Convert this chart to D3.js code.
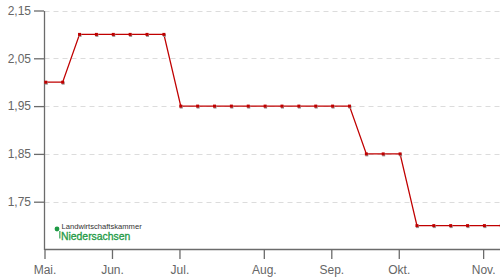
<!DOCTYPE html>
<html>
<head>
<meta charset="utf-8">
<script src="https://cdn.jsdelivr.net/npm/d3@7"></script>
<style>
  body { margin: 0; background: #fff; }
  svg { display: block; font-family: "Liberation Sans", Arial, sans-serif; }
</style>
</head>
<body>
<div id="chart"></div>
<script>
// weekly quotes (Thursdays)
const weeks = ["2015-05-07","2015-05-14","2015-05-21","2015-05-28",
  "2015-06-04","2015-06-11","2015-06-18","2015-06-25",
  "2015-07-02","2015-07-09","2015-07-16","2015-07-23","2015-07-30",
  "2015-08-06","2015-08-13","2015-08-20","2015-08-27",
  "2015-09-03","2015-09-10","2015-09-17","2015-09-24",
  "2015-10-01","2015-10-08","2015-10-15","2015-10-22","2015-10-29",
  "2015-11-05","2015-11-12"]
const prices = [2.00,2.00,
  2.10,2.10,2.10,2.10,2.10,2.10,
  1.95,1.95,1.95,1.95,1.95,1.95,1.95,1.95,1.95,1.95,1.95,
  1.85,1.85,1.85,
  1.70,1.70,1.70,1.70,1.70,1.70]
const monthLabels = ["Mai.","Jun.","Jul.","Aug.","Sep.","Okt.","Nov."]
const yTicks = [1.75,1.85,1.95,2.05,2.15]

const width = 500, height = 280
const svg = d3.select("#chart").append("svg")
  .attr("width", width).attr("height", height)

const x = d3.scalePoint().domain(weeks).range([44.5, 500])
const y = d3.scaleLinear().domain([1.65, 2.15]).range([249.5, 10.5])

// first week of each month gets a tick
const monthStarts = weeks.filter((w, i) => i == 0 || w.slice(5,7) != weeks[i-1].slice(5,7))
const fmtY = d => d3.format(".2f")(d).replace(".", ",")

// grid
svg.append("g").selectAll("line").data(yTicks).join("line")
  .attr("x1", 44.5).attr("x2", width)
  .attr("y1", d => Math.round(y(d)) + 0.5).attr("y2", d => Math.round(y(d)) + 0.5)
  .attr("stroke", "#dcdcdc").attr("stroke-dasharray", "5,4")

// y axis
const gy = svg.append("g").attr("transform", "translate(44,0)")
  .call(d3.axisLeft(y).tickValues(yTicks).tickFormat(fmtY).tickSize(10).tickSizeOuter(0).tickPadding(3))
gy.select(".domain").attr("stroke", "#6b6b6b").attr("stroke-width", 1.3)
gy.selectAll(".tick line").attr("stroke", "#6b6b6b").attr("stroke-width", 1.3)
gy.selectAll("text").attr("fill", "#666").style("font-size", "12px")

// x axis
const gx = svg.append("g").attr("transform", "translate(0,249)")
  .call(d3.axisBottom(x).tickValues(monthStarts).tickFormat((d, i) => monthLabels[i]).tickSize(10).tickSizeOuter(0).tickPadding(6))
gx.select(".domain").attr("stroke", "#6b6b6b").attr("stroke-width", 1.3)
gx.selectAll(".tick line").attr("stroke", "#6b6b6b").attr("stroke-width", 1.3)
gx.selectAll("text").attr("fill", "#666").style("font-size", "12px")

// line
const pts = weeks.map((w, i) => ({w: w, v: prices[i]}))
svg.append("path").datum(pts)
  .attr("fill", "none").attr("stroke", "#c00000").attr("stroke-width", 1.3)
  .attr("d", d3.line().x(d => x(d.w) + 1.3).y(d => y(d.v)))

// markers with small grey shadow
svg.append("g").selectAll("rect").data(pts).join("rect")
  .attr("x", d => x(d.w) + 0.3).attr("y", d => y(d.v) - 0.5)
  .attr("width", 3).attr("height", 3).attr("fill", "#999")
svg.append("g").selectAll("rect").data(pts).join("rect")
  .attr("x", d => x(d.w) - 0.2).attr("y", d => y(d.v) - 1.5)
  .attr("width", 3).attr("height", 3).attr("fill", "#c00000")

// logo
const logo = svg.append("g")
logo.append("circle").attr("cx", 57).attr("cy", 229).attr("r", 2.4).attr("fill", "#1e9a45")
logo.append("rect").attr("x", 59.3).attr("y", 231).attr("width", 1.1).attr("height", 7.5).attr("fill", "#1e9a45")
logo.append("text").attr("x", 61.5).attr("y", 228.5).text("Landwirtschaftskammer")
  .attr("fill", "#333").style("font-size", "7.6px")
logo.append("text").attr("x", 61).attr("y", 239.5).text("Niedersachsen")
  .attr("fill", "#1e9a45").attr("stroke", "#1e9a45").attr("stroke-width", 0.3)
  .style("font-size", "10.4px")
</script>
</body>
</html>
